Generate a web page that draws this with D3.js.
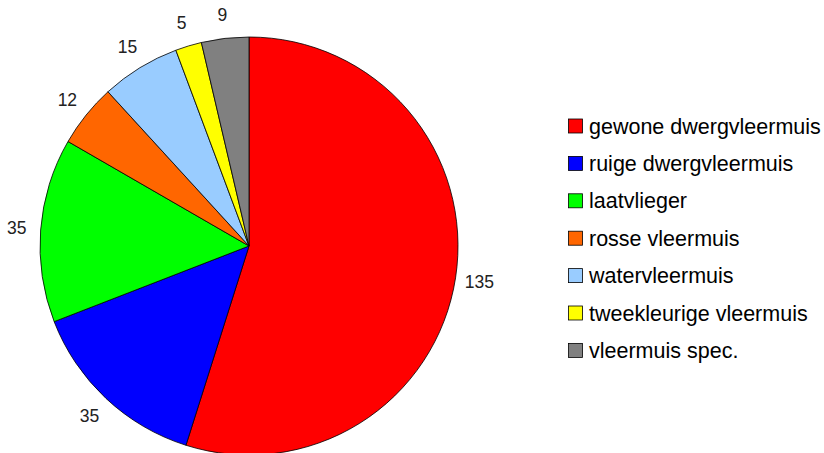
<!DOCTYPE html>
<html>
<head>
<meta charset="utf-8">
<script src="https://cdn.jsdelivr.net/npm/d3@7"></script>
<style>
  body { margin: 0; background: #fff; }
  text { font-family: "Liberation Sans", Arial, sans-serif; }
</style>
</head>
<body>
<svg id="chart" width="824" height="453"></svg>
<script>
const categories = ["gewone dwergvleermuis", "ruige dwergvleermuis", "laatvlieger", "rosse vleermuis",
  "watervleermuis", "tweekleurige vleermuis", "vleermuis spec."]
const values = [135, 35, 35, 12, 15, 5, 9]
const colors = ["#ff0000", "#0000ff", "#00ff00", "#ff6600", "#99ccff", "#ffff00", "#808080"]

const svg = d3.select("#chart")
const cx = 249, cy = 246, radius = 209

const data = categories.map((c, i) => ({ name: c, value: values[i], color: colors[i] }))

const pie = d3.pie().value(d => d.value).sort(null)
const arc = d3.arc().innerRadius(0).outerRadius(radius)
const labelArc = d3.arc().innerRadius(radius + 24).outerRadius(radius + 24)

const g = svg.append("g").attr("transform", "translate(" + cx + "," + cy + ")")

const arcs = pie(data)

g.selectAll("path")
  .data(arcs)
  .enter().append("path")
  .attr("d", arc)
  .attr("fill", d => d.data.color)
  .attr("stroke", "#000")
  .attr("stroke-width", 0.8)

g.selectAll("text.lbl")
  .data(arcs)
  .enter().append("text")
  .attr("class", "lbl")
  .attr("transform", d => "translate(" + labelArc.centroid(d) + ")")
  .attr("text-anchor", "middle")
  .attr("dy", "0.35em")
  .attr("font-size", 17.5)
  .attr("fill", "#222")
  .text(d => d.data.value)

// legend
const legend = svg.append("g").attr("transform", "translate(568,126)")
const rowH = 37.4

const rows = legend.selectAll("g")
  .data(data)
  .enter().append("g")
  .attr("transform", (d, i) => "translate(0," + (i * rowH) + ")")

rows.append("rect")
  .attr("x", 0.5)
  .attr("y", -7)
  .attr("width", 14)
  .attr("height", 14)
  .attr("fill", d => d.color)
  .attr("stroke", "#000")
  .attr("stroke-width", 0.8)

rows.append("text")
  .attr("x", 21)
  .attr("dy", "0.35em")
  .attr("font-size", 21.5)
  .attr("fill", "#000")
  .text(d => d.name)
</script>
</body>
</html>
